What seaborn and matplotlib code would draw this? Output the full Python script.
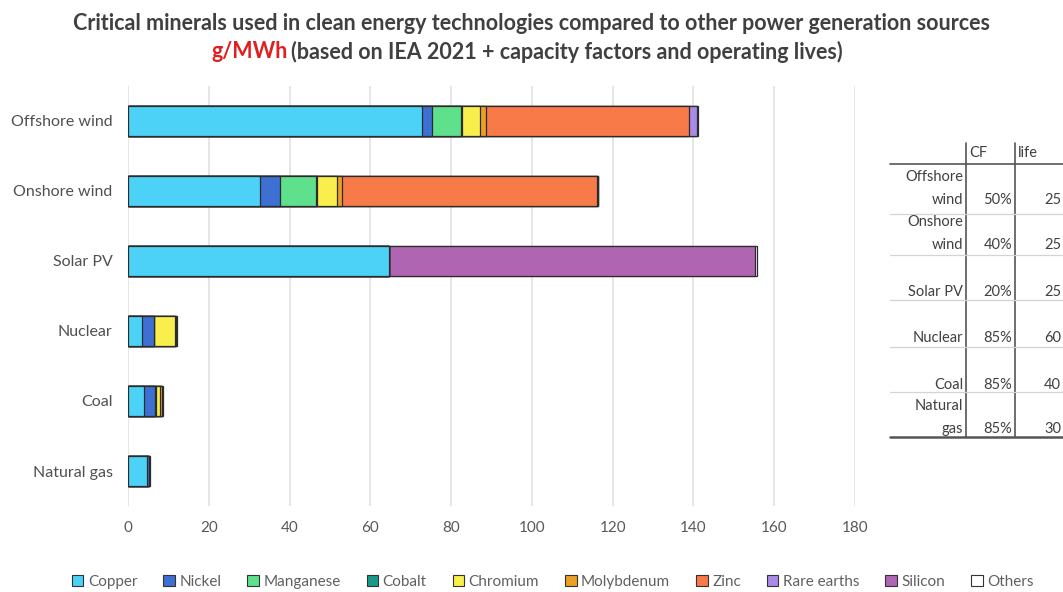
import matplotlib
matplotlib.use("Agg")
import matplotlib.pyplot as plt
import numpy as np
import pandas as pd
import seaborn as sns
from matplotlib.patches import Patch

sources = ["Offshore wind", "Onshore wind", "Solar PV", "Nuclear", "Coal", "Natural gas"]
minerals = ["Copper", "Nickel", "Manganese", "Cobalt", "Chromium",
            "Molybdenum", "Zinc", "Rare earths", "Silicon", "Others"]

copper = [72.7, 32.7, 64.7, 3.4, 4.0, 4.8]
nickel = [2.6, 4.9, 0.0, 3.1, 2.7, 0.4]
manganese = [7.2, 8.9, 0.0, 0.0, 0.0, 0.0]
cobalt = [0.2, 0.2, 0.0, 0.0, 0.2, 0.0]
chromium = [4.5, 5.0, 0.0, 5.1, 1.0, 0.0]
molybdenum = [1.4, 1.4, 0.0, 0.4, 0.5, 0.0]
zinc = [50.3, 62.9, 0.0, 0.0, 0.0, 0.0]
rare_earths = [2.1, 0.3, 0.0, 0.0, 0.0, 0.0]
silicon = [0.0, 0.0, 90.5, 0.0, 0.0, 0.0]
others = [0.2, 0.0, 0.5, 0.2, 0.2, 0.2]

palette = ["#4dd2f7", "#3d70d2", "#5fe08c", "#189a8a", "#f8ee4c",
           "#e9a024", "#f87a48", "#a98ae6", "#b065b2", "#ffffff"]

# table beside the chart: capacity factor and operating life
table_rows = [["Offshore", "wind"], ["Onshore", "wind"], ["Solar PV"], ["Nuclear"],
              ["Coal"], ["Natural", "gas"]]
table_cf = ["50%", "40%", "20%", "85%", "85%", "85%"]
table_life = ["25", "25", "25", "60", "40", "30"]

values = pd.DataFrame(
    [copper, nickel, manganese, cobalt, chromium, molybdenum, zinc, rare_earths, silicon, others],
    index=minerals, columns=sources).T
cumulative = values.cumsum(axis=1)

sns.set_theme(style="white")
plt.rcParams["font.family"] = ["Lato", "DejaVu Sans"]

fig = plt.figure(figsize=(10.63, 5.92), dpi=100)
ax = fig.add_axes([128 / 1063, 1 - 506 / 592, (855 - 128) / 1063, 420 / 592])

# stacked bars: draw cumulative totals from last to first so each segment shows
for mineral, color in zip(minerals[::-1], palette[::-1]):
    d = pd.DataFrame({"source": sources, "value": cumulative[mineral].values})
    sns.barplot(data=d, x="value", y="source", order=sources, color=color, ax=ax,
                width=0.42, edgecolor="#2b2b2b", linewidth=0.9, saturation=1)

ax.set_xlim(0, 180)
ax.set_xticks(np.arange(0, 181, 20))
ax.set_xlabel("")
ax.set_ylabel("")
ax.grid(axis="x", color="#e2e2e2", linewidth=1.2)
ax.set_axisbelow(True)
for s in ax.spines.values():
    s.set_visible(False)
ax.tick_params(axis="x", length=0, pad=11, labelsize=11, labelcolor="#595959")
ax.tick_params(axis="y", length=0, pad=11, labelsize=11.5, labelcolor="#505050")

title_color = "#404040"
fig.text(0.5, 1 - 24 / 592, "Critical minerals used in clean energy technologies compared to other power generation sources",
         ha="center", va="center", fontsize=15.5, fontweight="bold", color=title_color)
fig.text(288 / 1063, 1 - 52 / 592, "g/MWh", ha="right", va="center", fontsize=15.5,
         fontweight="bold", color="#e02020")
fig.text(291 / 1063, 1 - 52 / 592, "(based on IEA 2021 + capacity factors and operating lives)",
         ha="left", va="center", fontsize=15.5, fontweight="bold", color=title_color)

# side table
def fx(px):
    return px / 1063

def fy(py):
    return 1 - py / 592

line_kw = dict(transform=fig.transFigure, color="#555555", linewidth=1.2)
fig.add_artist(plt.Line2D([fx(966), fx(966)], [fy(143), fy(437)], **line_kw))
fig.add_artist(plt.Line2D([fx(1015), fx(1015)], [fy(143), fy(437)], **line_kw))
fig.add_artist(plt.Line2D([fx(890), fx(1063)], [fy(164), fy(164)], **line_kw))
fig.add_artist(plt.Line2D([fx(890), fx(1063)], [fy(437), fy(437)], transform=fig.transFigure,
                          color="#555555", linewidth=1.8))
for py in [214, 255, 300, 347, 392]:
    fig.add_artist(plt.Line2D([fx(890), fx(1063)], [fy(py), fy(py)], transform=fig.transFigure,
                              color="#d4d4d4", linewidth=0.9))

tkw = dict(fontsize=10.5, color="#404040", va="center")
fig.text(fx(969), fy(153), "CF", ha="left", **tkw)
fig.text(fx(1018), fy(153), "life", ha="left", **tkw)
row_bottom = [200, 245, 292, 338, 385, 429]
for lines, cf, life, yb in zip(table_rows, table_cf, table_life, row_bottom):
    fig.text(fx(963), fy(yb), lines[-1], ha="right", **tkw)
    if len(lines) > 1:
        fig.text(fx(963), fy(yb - 23), lines[0], ha="right", **tkw)
    fig.text(fx(1012), fy(yb), cf, ha="right", **tkw)
    fig.text(fx(1044), fy(yb), life, ha="left", **tkw)

handles = [Patch(facecolor=c, edgecolor="#333333", linewidth=0.8) for c in palette]
fig.legend(handles, minerals, loc="center", bbox_to_anchor=(0.52, 1 - 582 / 592), ncol=10,
           frameon=False, fontsize=11, handlelength=0.75, handleheight=0.75,
           handletextpad=0.3, columnspacing=1.7, labelcolor="#606060")

fig.savefig("out.png", dpi=100)
